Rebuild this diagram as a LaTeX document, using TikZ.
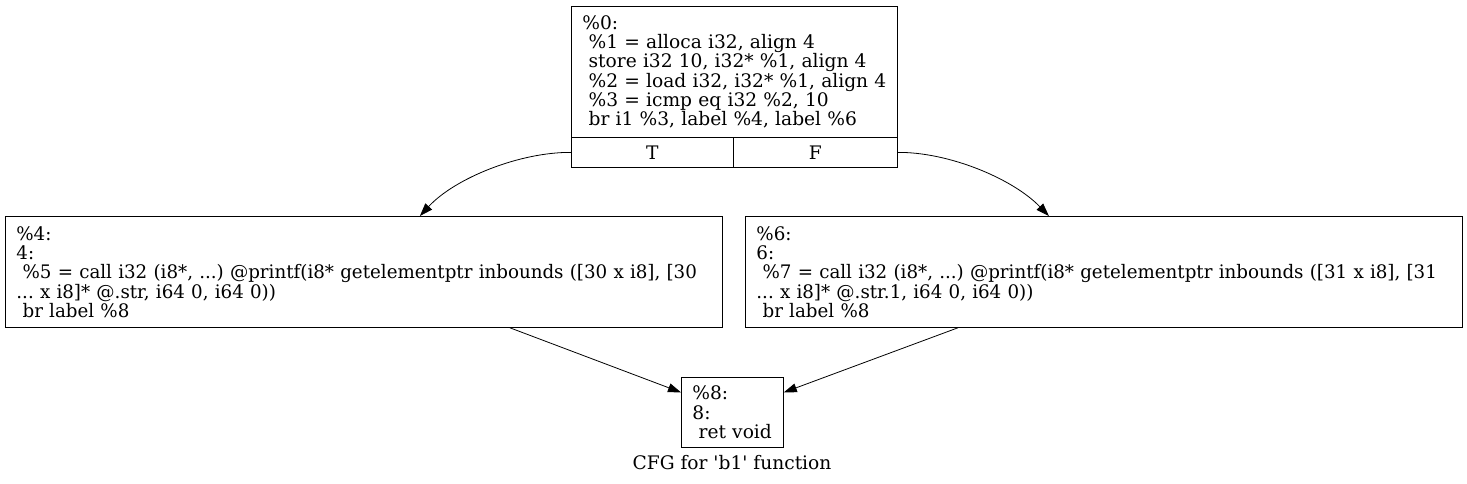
\documentclass[tikz,border=0pt]{standalone}
\usepackage{fontspec}
\setmainfont{DejaVu Serif}
\newfontfamily\codefont[FakeStretch=0.98]{DejaVu Serif}
\usetikzlibrary{arrows.meta}
\frenchspacing

\begin{document}
\begin{tikzpicture}[x=1bp, y=-1bp, line width=0.8pt, >={Triangle[length=13bp,width=9bp]},
    block/.style = {draw, anchor=north west, align=left, inner xsep=11bp, inner ysep=0pt, font=\fontsize{18.7}{19.4}\selectfont},
    port/.style = {draw, anchor=north west, minimum height=30bp, inner sep=0pt, font=\fontsize{18.7}{19.4}\selectfont}]
    \useasboundingbox (0,0) rectangle (1467,484);

    \node[block, text width=304bp, minimum height=131bp] (b0) at (571,6) {\%0:\\
        ~\%1 = alloca i32, align 4\\
        ~store i32 10, i32* \%1, align 4\\
        ~\%2 = load i32, i32* \%1, align 4\\
        ~\%3 = icmp eq i32 \%2, 10\\
        ~br i1 \%3, label \%4, label \%6};
    \node[port, minimum width=162bp] (b0T) at (571,137) {T};
    \node[port, minimum width=164bp] (b0F) at (733,137) {F};

    \node[block, text width=695bp, minimum height=111bp, font=\fontsize{18.7}{19.4}\codefont] (b4) at (5,216) {\%4:\\
        4:\\
        ~\%5 = call i32 (i8*, ...) @printf(i8* getelementptr inbounds ([30 x i8], [30\\
        ... x i8]* @.str, i64 0, i64 0))\\
        ~br label \%8};
    \node[block, text width=695bp, minimum height=111bp, font=\fontsize{18.7}{19.4}\codefont] (b6) at (745,216) {\%6:\\
        6:\\
        ~\%7 = call i32 (i8*, ...) @printf(i8* getelementptr inbounds ([31 x i8], [31\\
        ... x i8]* @.str.1, i64 0, i64 0))\\
        ~br label \%8};

    \node[block, text width=80bp, minimum height=70bp] (b8) at (681,377) {\%8:\\
        8:\\
        ~ret void};
    \node[font=\fontsize{18.7}{19.4}\selectfont] (cap) at (732,463) {CFG for \textquotesingle b1\textquotesingle{} function};

    \draw[->] (b0T.west) .. controls (520,152) and (455,178) .. ([xshift=56bp]b4.north);
    \draw[->] (b0F.east) .. controls (948,152) and (1012,178) .. ([xshift=-55bp]b6.north);
    \draw[->] ([xshift=146bp]b4.south) -- ([yshift=20bp]b8.west);
    \draw[->] ([xshift=-146bp]b6.south) -- ([yshift=20bp]b8.east);

\end{tikzpicture}
\end{document}
